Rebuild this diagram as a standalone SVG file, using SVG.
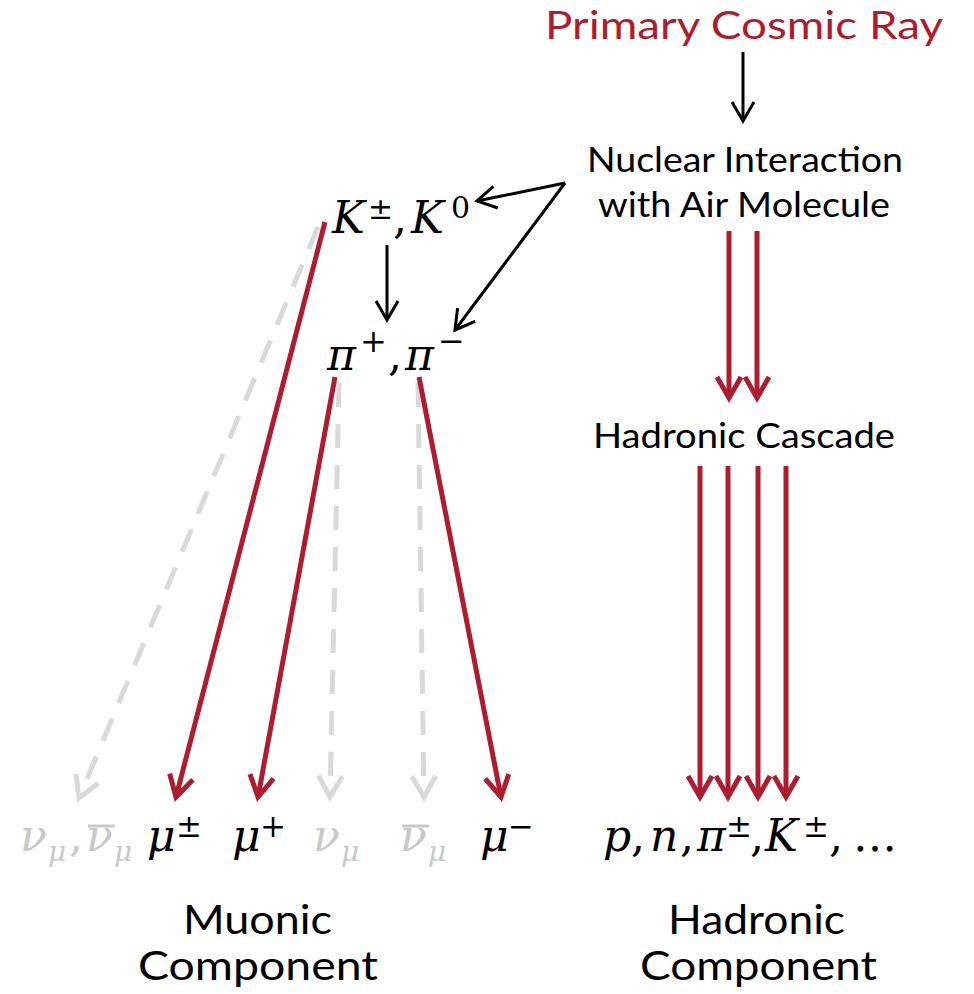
<svg xmlns="http://www.w3.org/2000/svg" width="974" height="994" viewBox="0 0 974 994">
<defs>
<style>
.sans{font-family:Lato,"Open Sans","Liberation Sans",sans-serif;fill:#000}
.red{fill:#AE1C2F}
.m{font-family:"DejaVu Serif","Liberation Serif",serif;font-style:italic;fill:#000}
.up{font-style:normal}
.g{fill:#C8C8C8}
.rl{stroke:#AE1C2F;stroke-width:5;fill:none}
.bl{stroke:#000;stroke-width:3;fill:none}
.gl{stroke:#D9D9D9;stroke-width:5;fill:none;stroke-dasharray:24 17}
</style>
<marker id="ar" markerUnits="userSpaceOnUse" markerWidth="50" markerHeight="50" viewBox="-30 -25 50 50" refX="0" refY="0" orient="auto">
<path d="M-21,-12 L0,0 L-21,12" fill="none" stroke="#AE1C2F" stroke-width="5"/>
</marker>
<marker id="ag" markerUnits="userSpaceOnUse" markerWidth="50" markerHeight="50" viewBox="-30 -25 50 50" refX="0" refY="0" orient="auto">
<path d="M-21,-12 L0,0 L-21,12" fill="none" stroke="#D9D9D9" stroke-width="5"/>
</marker>
<marker id="ab" markerUnits="userSpaceOnUse" markerWidth="50" markerHeight="50" viewBox="-30 -25 50 50" refX="0" refY="0" orient="auto">
<path d="M-19,-11 L0,0 L-19,11" fill="none" stroke="#000" stroke-width="3"/>
</marker>
</defs>
<rect width="974" height="994" fill="#fff"/>

<g id="connectors">
<line class="bl" x1="743" y1="52" x2="743" y2="121" marker-end="url(#ab)"/>
<line class="bl" x1="565" y1="183" x2="477" y2="201" marker-end="url(#ab)"/>
<line class="bl" x1="565" y1="183" x2="455" y2="330" marker-end="url(#ab)"/>
<line class="bl" x1="387" y1="245" x2="387" y2="320" marker-end="url(#ab)"/>

<line class="gl" x1="318" y1="227" x2="79" y2="798" marker-end="url(#ag)"/>
<line class="gl" x1="339" y1="383" x2="330" y2="797" marker-end="url(#ag)"/>
<line class="gl" x1="418" y1="383" x2="424" y2="797" marker-end="url(#ag)"/>

<line class="rl" x1="325" y1="222" x2="176" y2="797" marker-end="url(#ar)"/>
<line class="rl" x1="335" y1="377" x2="258" y2="797" marker-end="url(#ar)"/>
<line class="rl" x1="419" y1="377" x2="501" y2="797" marker-end="url(#ar)"/>

<line class="rl" x1="729" y1="231" x2="729" y2="398" marker-end="url(#ar)"/>
<line class="rl" x1="757" y1="231" x2="757" y2="398" marker-end="url(#ar)"/>

<line class="rl" x1="700" y1="466" x2="700" y2="797" marker-end="url(#ar)"/>
<line class="rl" x1="728" y1="466" x2="728" y2="797" marker-end="url(#ar)"/>
<line class="rl" x1="758" y1="466" x2="758" y2="797" marker-end="url(#ar)"/>
<line class="rl" x1="786" y1="466" x2="786" y2="797" marker-end="url(#ar)"/>
</g>

<g id="primary">
<text class="sans red" x="545" y="39" font-size="39" textLength="398" lengthAdjust="spacingAndGlyphs">Primary Cosmic Ray</text>
</g>

<g id="nuclear">
<text class="sans" x="587" y="172" font-size="34" textLength="316" lengthAdjust="spacingAndGlyphs">Nuclear Interaction</text>
<text class="sans" x="598" y="217" font-size="34" textLength="292" lengthAdjust="spacingAndGlyphs">with Air Molecule</text>
</g>

<g id="kaons">
<text class="m" font-size="44"><tspan x="332" y="233">K</tspan><tspan class="up" x="368" y="219" font-size="30">±</tspan><tspan class="up" x="393" y="233">,</tspan><tspan x="411" y="233">K</tspan><tspan class="up" x="451" y="218" font-size="30">0</tspan></text>
</g>

<g id="pions">
<text class="m" font-size="44"><tspan x="327" y="370">π</tspan><tspan class="up" x="360" y="352" font-size="32">+</tspan><tspan class="up" x="388" y="370">,</tspan><tspan x="405" y="370">π</tspan><tspan class="up" x="438" y="352" font-size="32">−</tspan></text>
</g>

<g id="cascade">
<text class="sans" x="593" y="448" font-size="34" textLength="302" lengthAdjust="spacingAndGlyphs">Hadronic Cascade</text>
</g>

<g id="muonic-products">
<text class="m g" font-size="44"><tspan x="20" y="851">ν</tspan><tspan x="48" y="861" font-size="28">μ</tspan><tspan class="up" x="69" y="851">,</tspan><tspan x="86" y="851">ν</tspan><tspan x="114" y="861" font-size="28">μ</tspan></text>
<line x1="88" y1="826" x2="115" y2="826" stroke="#C8C8C8" stroke-width="3"/>
<text class="m" font-size="44"><tspan x="147" y="851">μ</tspan><tspan class="up" x="176" y="837" font-size="31">±</tspan></text>
<text class="m" font-size="44"><tspan x="232" y="851">μ</tspan><tspan class="up" x="260" y="837" font-size="31">+</tspan></text>
<text class="m g" font-size="44"><tspan x="313" y="851">ν</tspan><tspan x="341" y="861" font-size="28">μ</tspan></text>
<text class="m g" font-size="44"><tspan x="400" y="851">ν</tspan><tspan x="428" y="861" font-size="28">μ</tspan></text>
<line x1="402" y1="826" x2="429" y2="826" stroke="#C8C8C8" stroke-width="3"/>
<text class="m" font-size="44"><tspan x="480" y="851">μ</tspan><tspan class="up" x="508" y="837" font-size="31">−</tspan></text>
</g>

<g id="hadronic-products">
<text class="m" font-size="44"><tspan x="603" y="851">p</tspan><tspan class="up" x="631" y="851">,</tspan><tspan x="650" y="851">n</tspan><tspan class="up" x="680" y="851">,</tspan><tspan x="697" y="851">π</tspan><tspan class="up" x="726" y="837" font-size="31">±</tspan><tspan class="up" x="750" y="851">,</tspan><tspan x="765" y="851">K</tspan><tspan class="up" x="803" y="837" font-size="31">±</tspan><tspan class="up" x="829" y="851">,</tspan><tspan class="up" x="853" y="851">…</tspan></text>
</g>

<g id="muonic-label">
<text class="sans" x="183" y="934" font-size="41" textLength="149" lengthAdjust="spacingAndGlyphs">Muonic</text>
<text class="sans" x="138" y="980" font-size="41" textLength="240" lengthAdjust="spacingAndGlyphs">Component</text>
</g>

<g id="hadronic-label">
<text class="sans" x="668" y="934" font-size="41" textLength="177" lengthAdjust="spacingAndGlyphs">Hadronic</text>
<text class="sans" x="640" y="980" font-size="41" textLength="237" lengthAdjust="spacingAndGlyphs">Component</text>
</g>
</svg>
